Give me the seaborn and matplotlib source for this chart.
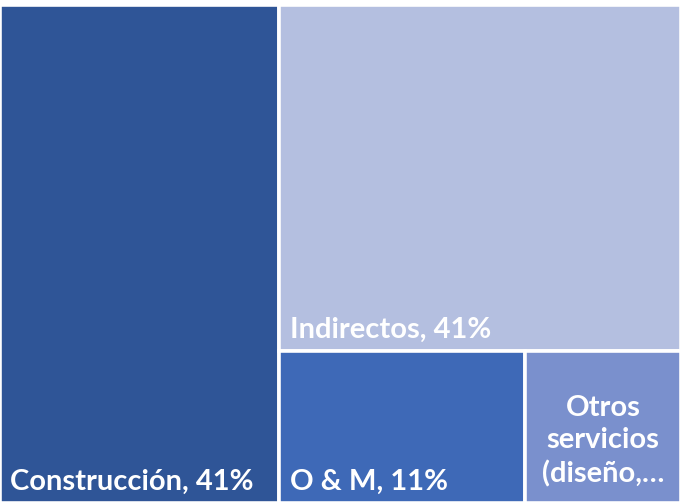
import matplotlib
matplotlib.use("Agg")
import matplotlib.pyplot as plt
from matplotlib.patches import Rectangle
import seaborn as sns

# Cost breakdown (%)
categories = ["Construcción", "Indirectos", "O & M", "Otros servicios (diseño,…"]
shares = [41, 41, 11, 7]
tile_labels = ["Construcción, 41%", "Indirectos, 41%", "O & M, 11%", "Otros\nservicios\n(diseño,…"]
colors = ["#2F5597", "#B4BFE0", "#3E69B7", "#7A90CD"]

sns.set_style("white")
plt.rcParams["font.family"] = ["Lato", "DejaVu Sans"]


def worst(row, side):
    s = sum(row)
    return max(max(side * side * r / (s * s), (s * s) / (side * side * r)) for r in row)


def layout_row(row, x, y, w, h):
    s = sum(row)
    rects = []
    if w >= h:  # column on the left
        cw = s / h
        yy = y + h
        for r in row:
            rh = r / cw
            yy -= rh
            rects.append((x, yy, cw, rh))
        return rects, (x + cw, y, w - cw, h)
    else:  # row along the top
        rh = s / w
        xx = x
        for r in row:
            rw = r / rh
            rects.append((xx, y + h - rh, rw, rh))
            xx += rw
        return rects, (x, y, w, h - rh)


def squarify(values, x, y, w, h):
    total = sum(values)
    areas = [v * w * h / total for v in values]
    rects = []
    row = []
    i = 0
    while i < len(areas):
        side = min(w, h)
        cand = row + [areas[i]]
        if not row or worst(cand, side) <= worst(row, side):
            row = cand
            i += 1
        else:
            r, (x, y, w, h) = layout_row(row, x, y, w, h)
            rects += r
            row = []
    if row:
        r, _ = layout_row(row, x, y, w, h)
        rects += r
    return rects


W, H = 681.0, 498.0
rects = squarify(shares, 0, 0, W, H)

fig = plt.figure(figsize=(6.81, 5.03), dpi=100)
ax = fig.add_axes([0, 0, 1, H / 503.0])
ax.set_xlim(0, W)
ax.set_ylim(0, H)
ax.axis("off")

for i, (rx, ry, rw, rh) in enumerate(rects):
    ax.add_patch(Rectangle((rx, ry), rw, rh, facecolor=colors[i],
                           edgecolor="white", linewidth=2.6))
    if "\n" in tile_labels[i]:
        ax.text(rx + rw / 2, ry + rh / 2 - 14, tile_labels[i], ha="center", va="center",
                color="white", fontsize=21, fontweight="bold", linespacing=1.3)
    else:
        ax.annotate(tile_labels[i], xy=(rx, ry), xytext=(7.5, 9.5),
                    textcoords="offset points", ha="left", va="baseline",
                    color="white", fontsize=21, fontweight="bold")

fig.savefig("out.png", dpi=100, facecolor="white")
